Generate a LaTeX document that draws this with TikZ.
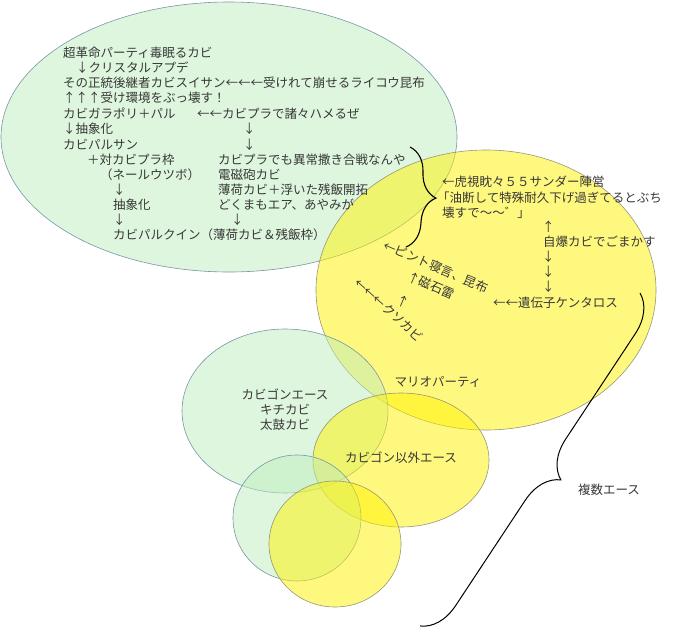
\documentclass[tikz,border=0pt]{standalone}
\usepackage{fontspec}
\usepackage{tikz}
\usetikzlibrary{decorations.pathreplacing}
\newfontfamily\jpfont{Noto Sans CJK JP}
\definecolor{textgray}{RGB}{55,55,55}
\definecolor{venngreen}{RGB}{190,236,190}
\definecolor{greenedge}{RGB}{120,150,165}
\definecolor{yellowedge}{RGB}{150,150,120}

\begin{document}
\begin{tikzpicture}[x=1pt,y=-1pt]
        \useasboundingbox (0,0) rectangle (680,629);
        \begin{scope}[line width=0.6pt, fill opacity=0.5]
            \filldraw [fill=venngreen, draw=greenedge] (229,137) ellipse [x radius=228, y radius=135];
            \filldraw [fill=yellow, draw=yellowedge] (486,290) ellipse [x radius=170, y radius=140];
            \filldraw [fill=venngreen, draw=greenedge] (285,411) ellipse [x radius=103, y radius=82];
            \filldraw [fill=yellow, draw=yellowedge] (401,460) ellipse [x radius=88, y radius=67];
            \filldraw [fill=venngreen, draw=greenedge] (297,518) ellipse [x radius=64, y radius=63];
            \filldraw [fill=yellow, draw=yellowedge] (335,544) ellipse [x radius=66, y radius=63];
        \end{scope}
        \begin{scope}[every node/.style={anchor=base west, inner sep=0pt, text=textgray, font=\jpfont\fontsize{12.5}{15}\selectfont}]
            \node (L1) at (63, 57.5) {超革命パーティ毒眠るカビ};
            \node (L2) at (76, 72.5) {↓クリスタルアプデ};
            \node (L3) at (63, 87.5) {その正統後継者カビスイサン←←←受けれて崩せるライコウ昆布};
            \node (L4) at (63, 102.5) {↑↑↑受け環境をぶっ壊す！};
            \node (L5) at (63, 118) {カビガラポリ＋パル};
            \node (L5r) at (197, 118) {←←カビプラで諸々ハメるぜ};
            \node (L6) at (63, 133.5) {↓抽象化};
            \node (L6r) at (243, 133.5) {↓};
            \node (L7) at (63, 149) {カビパルサン};
            \node (L7r) at (243, 149) {↓};
            \node (L8) at (87, 164.5) {＋対カビプラ枠};
            \node (L8r) at (218, 164.5) {カビプラでも異常撒き合戦なんや};
            \node (L9) at (100, 179.5) {（ネールウツボ）};
            \node (L9r) at (218, 179.5) {電磁砲カビ};
            \node (L10) at (113, 194.5) {↓};
            \node (L10r) at (218, 194.5) {薄荷カビ＋浮いた残飯開拓};
            \node (L11) at (113, 209.5) {抽象化};
            \node (L11r) at (218, 209.5) {どくまもエア、あやみが};
            \node (L12) at (113, 224.5) {↓};
            \node (L12r) at (231, 224.5) {↓};
            \node (L13) at (113, 239.5) {カビパルクイン（薄荷カビ＆残飯枠）};
            \node (R1) at (442, 186.5) {←虎視眈々５５サンダー陣営};
            \node (R2) at (437, 202) {「油断して特殊耐久下げ過ぎてるとぶち};
            \node (R3) at (442, 217) {壊すで〜〜゛」};
            \node (R4) at (542, 231.5) {↑};
            \node (R5) at (543, 246.5) {自爆カビでごまかす};
            \node (R6) at (542, 261.5) {↓};
            \node (R7) at (542, 276.5) {↓};
            \node (R8) at (542, 291.5) {↓};
            \node (R9) at (493, 307.5) {←←遺伝子ケンタロス};
            \node (S1) [rotate=-23] at (382, 249) {←ピント寝言、昆布};
            \node (S2) [rotate=-23] at (406, 280) {↑磁石雷};
            \node (S3) [rotate=-23, anchor=center] at (403, 302) {↑};
            \node (S4) [rotate=-42] at (353, 284) {←←←クソカビ};
        \end{scope}
        \begin{scope}[every node/.style={anchor=center, inner sep=0pt, text=textgray, font=\jpfont\fontsize{12.5}{15}\selectfont}]
            \node (mario) at (438, 382) {マリオパーティ};
            \node (kabigon) [align=center] at (285, 410) {カビゴンエース\\キチカビ\\太鼓カビ};
            \node (igai) at (401, 458) {カビゴン以外エース};
            \node (fukusu) at (609, 490) {複数エース};
        \end{scope}
        \coordinate (b1) at (410, 147);
        \coordinate (b2) at (406, 247);
        \coordinate (b3) at (640, 293);
        \coordinate (b4) at (420, 626);
        \draw [black, line width=1.1pt, decorate, decoration={brace, amplitude=28pt}] (b1) -- (b2);
        \draw [black, line width=1pt, decorate, decoration={brace, amplitude=37pt}] (b3) -- (b4);
    \end{tikzpicture}
\end{document}
